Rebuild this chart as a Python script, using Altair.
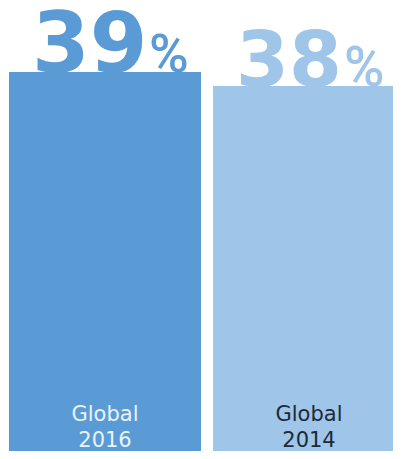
import altair as alt
import pandas as pd

# ---- data ----
categories = ["Global 2016", "Global 2014"]
values = [39, 38]
value_text = ["39", "38"]
pct_text = ["%", "%"]
label_line1 = ["Global", "Global"]
label_line2 = ["2016", "2014"]

df = pd.DataFrame({
    "cat": categories,
    "value": values,
    "num": value_text,
    "pct": pct_text,
    "l1": label_line1,
    "l2": label_line2,
})

# ---- styles ----
bar_colors = ["#5b9bd5", "#9fc5e9"]
label_colors = ["#eaf2fa", "#1c2a3a"]
num_sizes = [83, 76]
pct_sizes = [54, 55]
pct_dx = [44, 35]

W, H = 385, 443

x_enc = alt.X("cat:N", sort=categories, axis=None,
              scale=alt.Scale(range=[1, 397], paddingInner=0.0588, paddingOuter=0))
y_scale = alt.Scale(domain=[11.93, 43.57])
y_enc = alt.Y("value:Q", axis=None, scale=y_scale)
col_enc = alt.Color("cat:N", scale=alt.Scale(domain=categories, range=bar_colors), legend=None)
lab_col = alt.Color("cat:N", scale=alt.Scale(domain=categories, range=label_colors), legend=None)

base = alt.Chart(df)

bars = base.mark_bar(clip=True).encode(
    x=x_enc, y=y_enc, y2=alt.datum(0), color=col_enc
)

layers = [bars]
for i, c in enumerate(categories):
    sub = base.transform_filter(alt.datum.cat == c)
    layers.append(
        sub.mark_text(align="left", baseline="alphabetic", dx=-73,
                      font="DejaVu Sans", fontWeight="bold", fontSize=num_sizes[i]).encode(
            x=x_enc, y=y_enc, text="num:N", color=col_enc)
    )
    layers.append(
        sub.mark_text(align="left", baseline="alphabetic", dx=pct_dx[i],
                      font="Roboto", fontWeight=500, fontSize=pct_sizes[i]).encode(
            x=x_enc, y=y_enc, text="pct:N", color=col_enc)
    )

line1 = base.mark_text(align="center", baseline="alphabetic", font="DejaVu Sans",
                       fontSize=21).encode(
    x=x_enc, y=alt.value(413), text="l1:N", color=lab_col)
line2 = base.mark_text(align="center", baseline="alphabetic", font="DejaVu Sans",
                       fontSize=21).encode(
    x=x_enc, y=alt.value(439), text="l2:N", color=lab_col)
layers += [line1, line2]

chart = alt.layer(*layers).resolve_scale(color="independent").properties(
    width=W, height=H, padding=0,
    autosize=alt.AutoSizeParams(type="none"),
    background="white",
).configure_view(stroke=None)

chart.save("out.html", embed_options={"renderer": "svg", "actions": False})
